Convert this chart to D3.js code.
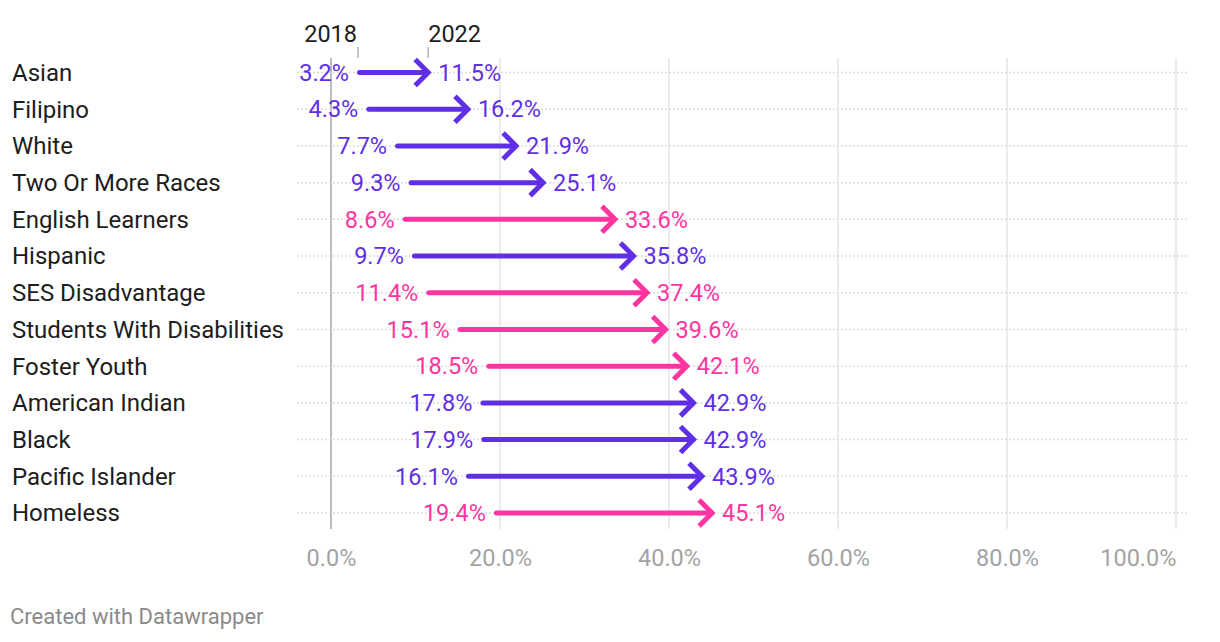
<!DOCTYPE html>
<html><head><meta charset="utf-8">
<script src="https://cdn.jsdelivr.net/npm/d3@7"></script>
<style>
body{margin:0;background:#fff;}
svg{font-family:Roboto, "Noto Sans", sans-serif;}
</style></head>
<body><svg id="c" width="1220" height="642"></svg>
<script>
const categories = ["Asian","Filipino","White","Two Or More Races","English Learners","Hispanic","SES Disadvantage","Students With Disabilities","Foster Youth","American Indian","Black","Pacific Islander","Homeless"];
const values2018 = [3.2,4.3,7.7,9.3,8.6,9.7,11.4,15.1,18.5,17.8,17.9,16.1,19.4];
const values2022 = [11.5,16.2,21.9,25.1,33.6,35.8,37.4,39.6,42.1,42.9,42.9,43.9,45.1];
const groupType = ["race","race","race","race","group","race","group","group","group","race","race","race","group"];
const xTicks = [0,20,40,60,80,100];
const yearLabels = ["2018","2022"];

const colors = {race:"#5f2fe6", group:"#fe35a0"};
const svg = d3.select("#c");
const x = d3.scaleLinear().domain([0,100]).range([331,1176]);
const y = d3.scalePoint().domain(categories).range([72.5,513]);

// vertical gridlines
svg.append("g").selectAll("line").data(xTicks).join("line")
  .attr("x1",d=>x(d)).attr("x2",d=>x(d)).attr("y1",58).attr("y2",529)
  .attr("stroke",d=>d===0?"#bdbdbd":"#e4e4e4").attr("stroke-width",d=>d===0?2:1.5);

// horizontal dotted gridlines
svg.append("g").selectAll("line").data(categories).join("line")
  .attr("x1",297).attr("x2",1189).attr("y1",d=>y(d)).attr("y2",d=>y(d))
  .attr("stroke","#dcdcdc").attr("stroke-width",1.5).attr("stroke-dasharray","2,2");

// axis labels
const ax = d3.axisBottom(x).tickValues(xTicks).tickFormat(d=>d.toFixed(1)+"%").tickSize(0);
const axg = svg.append("g").attr("transform","translate(0,546)").call(ax);
axg.select(".domain").remove();
axg.selectAll("text").attr("fill","#a3a3a3").attr("font-size","23.5px").attr("font-family","Roboto").attr("dy","0.71em")
  .attr("text-anchor",d=>d===100?"end":"middle");

// category labels
svg.append("g").selectAll("text").data(categories).join("text")
  .attr("x",12).attr("y",d=>y(d)).attr("dy","0.35em")
  .attr("font-size","24px").attr("fill","#1d1d1d").text(d=>d);

const rows = categories.map((c,i)=>({c, a:values2018[i], b:values2022[i], col:colors[groupType[i]]}));

// arrows
const g = svg.append("g");
g.selectAll("line").data(rows).join("line")
  .attr("x1",d=>x(d.a)+1.5).attr("x2",d=>x(d.b)-3).attr("y1",d=>y(d.c)).attr("y2",d=>y(d.c))
  .attr("stroke",d=>d.col).attr("stroke-width",5).attr("stroke-linecap","round");
g.selectAll("path").data(rows).join("path")
  .attr("d",d=>{const tx=x(d.b), ty=y(d.c); return `M${tx-13},${ty-13}L${tx},${ty}L${tx-13},${ty+13}`;})
  .attr("fill","none").attr("stroke",d=>d.col).attr("stroke-width",5).attr("stroke-linejoin","miter");

// value labels
g.selectAll("text.s").data(rows).join("text").attr("class","s")
  .attr("x",d=>x(d.a)-9).attr("y",d=>y(d.c)).attr("dy","0.35em").attr("text-anchor","end")
  .attr("font-size","23.5px").attr("fill",d=>d.col).text(d=>d.a.toFixed(1)+"%");
g.selectAll("text.e").data(rows).join("text").attr("class","e")
  .attr("x",d=>x(d.b)+10).attr("y",d=>y(d.c)).attr("dy","0.35em")
  .attr("font-size","23.5px").attr("fill",d=>d.col).text(d=>d.b.toFixed(1)+"%");

// year labels
const yr = [{t:yearLabels[0],v:values2018[0],anchor:"end",dx:-1},{t:yearLabels[1],v:values2022[0],anchor:"start",dx:0}];
svg.append("g").selectAll("line").data(yr).join("line")
  .attr("x1",d=>x(d.v)).attr("x2",d=>x(d.v)).attr("y1",47).attr("y2",58)
  .attr("stroke","#b5b5b5").attr("stroke-width",1.5);
svg.append("g").selectAll("text").data(yr).join("text")
  .attr("x",d=>x(d.v)+d.dx).attr("y",42).attr("text-anchor",d=>d.anchor)
  .attr("font-size","23.5px").attr("fill","#1d1d1d").text(d=>d.t);

svg.append("text").attr("x",10).attr("y",624).attr("font-size","22px").attr("fill","#8a8a8a").text("Created with Datawrapper");
</script></body></html>
